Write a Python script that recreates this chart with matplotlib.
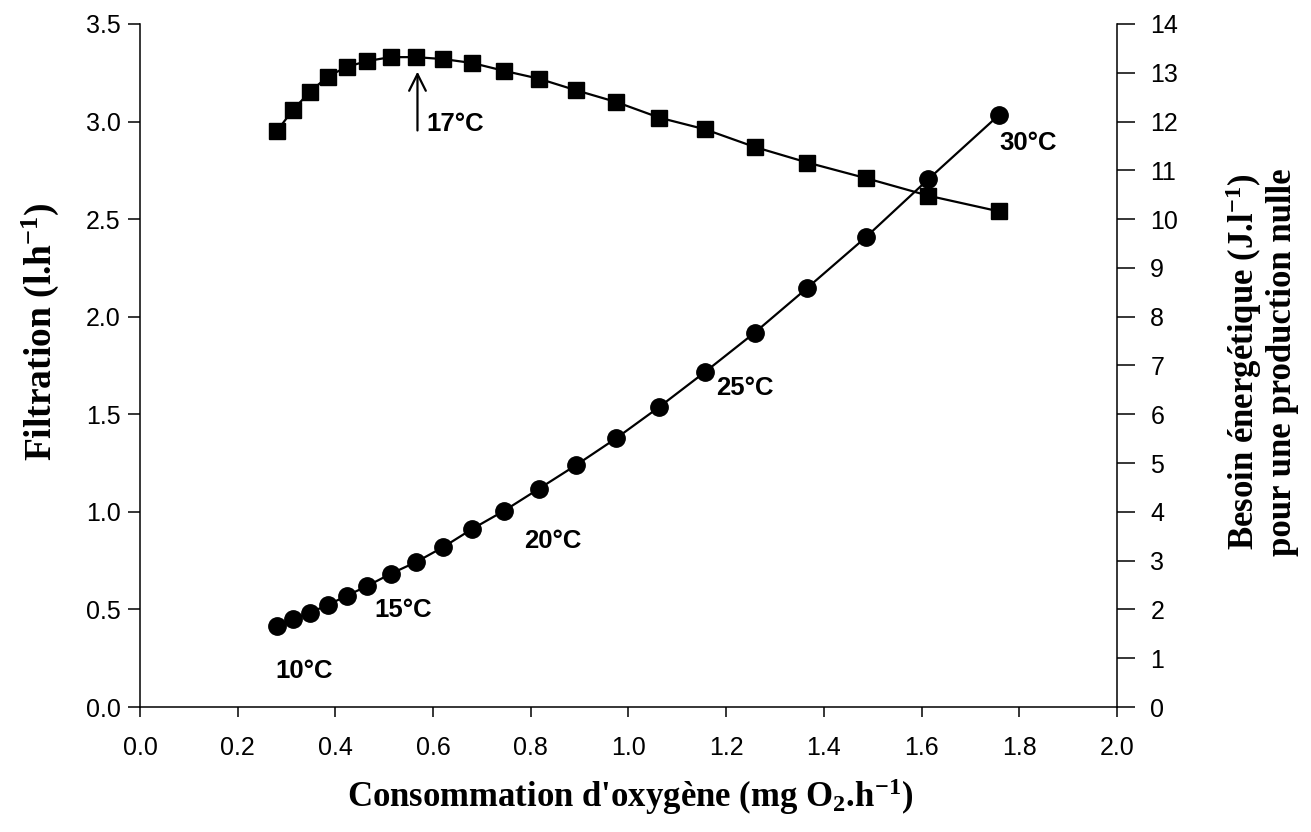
import matplotlib
matplotlib.use("Agg")
import matplotlib.pyplot as plt

plt.rcParams['font.family'] = ['Liberation Sans', 'DejaVu Sans']
plt.rcParams['mathtext.fontset'] = 'custom'
plt.rcParams['mathtext.rm'] = 'Liberation Serif:bold'
plt.rcParams['mathtext.bf'] = 'Liberation Serif:bold'
plt.rcParams['mathtext.it'] = 'Liberation Serif:bold'

# temperature 10 -> 30 degC
temperatures = list(range(10, 31))
# oxygen consumption (mg O2/h)
conso = [0.280, 0.313, 0.347, 0.384, 0.423, 0.465, 0.513, 0.565, 0.621, 0.680, 0.745,
         0.816, 0.893, 0.975, 1.063, 1.157, 1.258, 1.366, 1.486, 1.614, 1.758]
# filtration (l/h) - left axis
filtration = [2.95, 3.06, 3.15, 3.23, 3.28, 3.31, 3.33, 3.33, 3.32, 3.30, 3.26,
              3.22, 3.16, 3.10, 3.02, 2.96, 2.87, 2.79, 2.71, 2.62, 2.54]
# energy need (J/l) - right axis
besoin = [1.66, 1.80, 1.93, 2.09, 2.28, 2.48, 2.73, 2.97, 3.28, 3.65, 4.02,
          4.47, 4.96, 5.51, 6.15, 6.87, 7.67, 8.59, 9.63, 10.82, 12.13]

fig = plt.figure(figsize=(13.11, 8.32), dpi=100)
ax = fig.add_axes([0.1068, 0.1502, 0.852 - 0.1068, 0.9712 - 0.1502])
ax2 = ax.twinx()

ax.plot(conso, filtration, color='black', lw=1.6, marker='s', ms=11.5, zorder=3)
ax2.plot(conso, besoin, color='black', lw=1.6, marker='o', ms=12.5, zorder=3)

ax.set_xlim(0, 2.0)
ax.set_ylim(0, 3.5)
ax2.set_ylim(0, 14)
ax.set_xticks([i * 0.2 for i in range(11)])
ax.set_xticklabels(['%.1f' % (i * 0.2) for i in range(11)])
ax.set_yticks([i * 0.5 for i in range(8)])
ax.set_yticklabels(['%.1f' % (i * 0.5) for i in range(8)])
ax2.set_yticks(range(15))

for a in (ax, ax2):
    a.spines['top'].set_visible(False)
    for s in a.spines.values():
        s.set_linewidth(1.1)
ax.spines['right'].set_visible(False)
ax2.spines['left'].set_visible(False)
ax2.spines['bottom'].set_visible(False)

ax.tick_params(axis='y', direction='out', length=9, width=1.1, pad=5, labelsize=18)
ax.tick_params(axis='x', direction='out', length=7, width=1.1, pad=14, labelsize=18)
ax2.tick_params(axis='y', direction='out', length=13, width=1.1, pad=11, labelsize=18)

# temperature labels
lab = dict(fontsize=18.5, fontweight='bold', ha='center', va='center')
ax.text(0.335, (707 - 671) / 195.14, '10°C', **lab)
ax.text(0.538, (707 - 610) / 195.14, '15°C', **lab)
ax.text(0.845, (707 - 541) / 195.14, '20°C', **lab)
ax.text(1.239, (707 - 388) / 195.14, '25°C', **lab)
ax.text(1.818, (707 - 143) / 195.14, '30°C', **lab)
ax.text(0.587, (707 - 124) / 195.14, '17°C', fontsize=18.5, fontweight='bold',
        ha='left', va='center')
ax.annotate('', xy=(0.568, 3.27), xytext=(0.568, 2.94),
            arrowprops=dict(arrowstyle='->', color='black', lw=1.6,
                            mutation_scale=30))

fig.text(0.4805, 0.042, "Consommation d'oxygène (mg O$_{\\mathrm{2}}$.h$^{\\mathrm{-1}}$)",
         family='Liberation Serif', fontweight='bold', fontsize=25,
         ha='center', va='center')
fig.text(0.0305, 0.601, "Filtration (l.h$^{\\mathrm{-1}}$)",
         family='Liberation Serif', fontweight='bold', fontsize=27,
         rotation=90, ha='center', va='center')
fig.text(0.962, 0.565, "Besoin énergétique (J.l$^{\\mathrm{-1}}$)\npour une production nulle",
         family='Liberation Serif', fontweight='bold', fontsize=25,
         rotation=90, ha='center', va='center', multialignment='center',
         linespacing=1.1)

fig.savefig('out.png', dpi=100)
